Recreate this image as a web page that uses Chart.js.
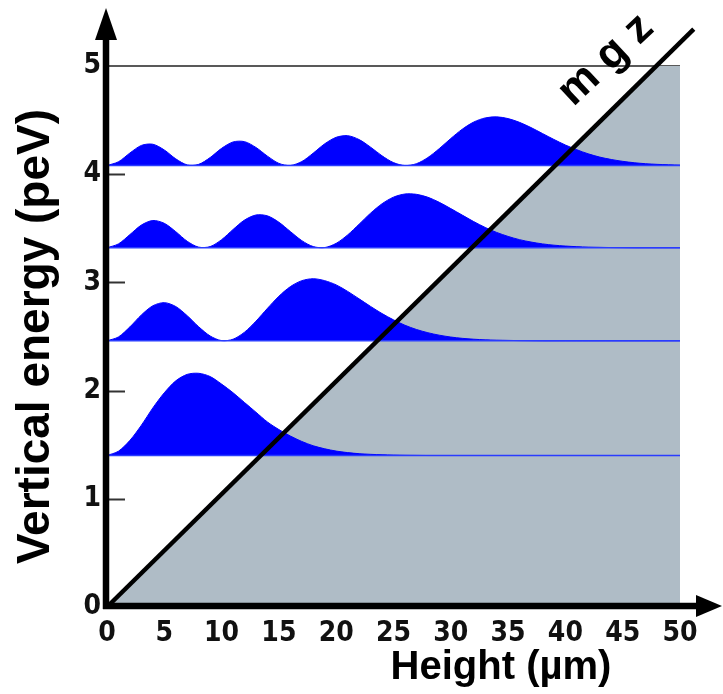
<!DOCTYPE html>
<html>
<head>
<meta charset="utf-8">
<script src="https://cdn.jsdelivr.net/npm/chart.js@4.4.1/dist/chart.umd.min.js"></script>
<style>
  html, body { margin: 0; padding: 0; background: #fff; }
  canvas { display: block; }
</style>
</head>
<body>
<canvas id="bouncer" width="723" height="694"></canvas>
<script>
// height above the mirror (µm), sampled every micron
const heightUm = [0, 1, 2, 3, 4, 5, 6, 7, 8, 9, 10, 11, 12, 13, 14, 15, 16, 17, 18, 19, 20,
  21, 22, 23, 24, 25, 26, 27, 28, 29, 30, 31, 32, 33, 34, 35, 36, 37, 38, 39, 40,
  41, 42, 43, 44, 45, 46, 47, 48, 49, 50];

// level energies (peV)
const levelEnergy = [1.40, 2.46, 3.32, 4.08];

// probability density of each state, drawn as height above its level (peV)
const density1 = [0, 0.04, 0.14, 0.28, 0.44, 0.58, 0.69, 0.75, 0.76, 0.73, 0.66,
  0.58, 0.49, 0.40, 0.31, 0.24, 0.18, 0.13, 0.09, 0.062, 0.041,
  0.027, 0.017, 0.011, 0.007, 0.004, 0.002, 0.001, 0, 0, 0,
  0, 0, 0, 0, 0, 0, 0, 0, 0, 0, 0, 0, 0, 0, 0, 0, 0, 0, 0, 0];
const density2 = [0, 0.036, 0.129, 0.239, 0.324, 0.353, 0.317, 0.232, 0.130, 0.045, 0.002,
  0.015, 0.080, 0.182, 0.300, 0.412, 0.501, 0.556, 0.574, 0.556, 0.517,
  0.457, 0.388, 0.318, 0.252, 0.194, 0.144, 0.105, 0.075, 0.052, 0.035,
  0.023, 0.015, 0.009, 0.006, 0.004, 0.002, 0.001, 0, 0, 0,
  0, 0, 0, 0, 0, 0, 0, 0, 0, 0];
const density3 = [0, 0.036, 0.122, 0.210, 0.252, 0.226, 0.149, 0.060, 0.006, 0.011, 0.075,
  0.169, 0.256, 0.303, 0.295, 0.236, 0.150, 0.066, 0.011, 0.002, 0.041,
  0.119, 0.218, 0.320, 0.407, 0.468, 0.497, 0.494, 0.467, 0.420, 0.362,
  0.302, 0.242, 0.188, 0.142, 0.105, 0.075, 0.053, 0.036, 0.024, 0.016,
  0.010, 0.006, 0.004, 0.002, 0.001, 0, 0, 0, 0, 0];
const density4 = [0, 0.035, 0.116, 0.186, 0.197, 0.144, 0.062, 0.006, 0.011, 0.074, 0.159,
  0.218, 0.221, 0.167, 0.087, 0.020, 0.001, 0.037, 0.115, 0.201, 0.261,
  0.276, 0.240, 0.170, 0.090, 0.027, 0.000, 0.017, 0.074, 0.157, 0.250,
  0.336, 0.402, 0.440, 0.450, 0.434, 0.399, 0.351, 0.296, 0.241, 0.190,
  0.146, 0.108, 0.078, 0.056, 0.039, 0.026, 0.017, 0.011, 0.007, 0.004];
const densities = [density1, density2, density3, density4];

// gravitational potential mgz and the shaded region under it
const mgzX = [0, 51.2];
const mgzY = [0, 5.34];
const wallX = [0, 47.9, 50];
const wallY = [0, 5, 5];

const xTicks = [0, 5, 10, 15, 20, 25, 30, 35, 40, 45, 50];
const yTicks = [0, 1, 2, 3, 4, 5];

const tickFont = { family: "'Liberation Sans Narrow', 'DejaVu Sans Condensed', Arial, sans-serif", size: 28, weight: 'bold' };
const titleFamily = "'Liberation Sans', Arial, sans-serif";

const pts = (xs, ys) => xs.map((x, i) => ({ x: x, y: ys[i] }));

const datasets = [];

datasets.push({
  label: 'potential',
  data: pts(wallX, wallY),
  borderWidth: 0,
  pointRadius: 0,
  backgroundColor: '#afbcc6',
  fill: 'origin',
  order: 5
});

densities.forEach((d, i) => {
  const e = levelEnergy[i];
  datasets.push({
    label: 'state ' + (i + 1),
    data: heightUm.map((z, j) => ({ x: z, y: e + d[j] })),
    borderColor: '#0000ff',
    borderWidth: 1,
    backgroundColor: '#0000ff',
    pointRadius: 0,
    tension: 0.3,
    fill: { value: e },
    order: 4
  });
  datasets.push({
    label: 'level ' + (i + 1),
    data: [{ x: 0, y: e }, { x: 50, y: e }],
    borderColor: '#2a3cff',
    borderWidth: 1.5,
    pointRadius: 0,
    fill: false,
    order: 3
  });
});

datasets.push({
  label: 'mgz',
  data: pts(mgzX, mgzY),
  borderColor: '#000',
  borderWidth: 4.5,
  pointRadius: 0,
  fill: false,
  clip: false,
  order: 1
});

// axes with arrowheads, the inner tick marks and the free text
const decorations = {
  id: 'decorations',
  beforeDatasetsDraw(chart) {
    const ctx = chart.ctx;
    const x = chart.scales.x, y = chart.scales.y;
    ctx.save();
    ctx.strokeStyle = '#222';
    ctx.lineWidth = 1.5;
    ctx.beginPath();
    ctx.moveTo(x.getPixelForValue(0), y.getPixelForValue(5));
    ctx.lineTo(x.getPixelForValue(50), y.getPixelForValue(5));
    ctx.stroke();
    ctx.lineWidth = 2;
    ctx.strokeStyle = '#333';
    [1, 2, 3, 4].forEach(v => {
      const py = Math.round(y.getPixelForValue(v)) + 0.5;
      ctx.beginPath();
      ctx.moveTo(x.getPixelForValue(0), py);
      ctx.lineTo(x.getPixelForValue(0) + 18, py);
      ctx.stroke();
    });
    ctx.restore();
  },
  afterDatasetsDraw(chart) {
    const ctx = chart.ctx;
    const x = chart.scales.x, y = chart.scales.y;
    const x0 = x.getPixelForValue(0) - 1;
    const y0 = y.getPixelForValue(0) - 1;
    ctx.save();
    ctx.fillStyle = '#000';
    ctx.strokeStyle = '#000';
    ctx.lineWidth = 6.5;
    ctx.beginPath();
    ctx.moveTo(x0, y0 + 3);
    ctx.lineTo(x0, 34);
    ctx.moveTo(x0 - 3, y0);
    ctx.lineTo(702, y0);
    ctx.stroke();
    // arrowheads
    ctx.beginPath();
    ctx.moveTo(x0, 8);
    ctx.lineTo(x0 - 11, 40);
    ctx.lineTo(x0 + 11, 40);
    ctx.closePath();
    ctx.fill();
    ctx.beginPath();
    ctx.moveTo(722, y0);
    ctx.lineTo(696, y0 - 11);
    ctx.lineTo(696, y0 + 11);
    ctx.closePath();
    ctx.fill();

    ctx.textAlign = 'center';
    ctx.textBaseline = 'middle';
    ctx.font = 'bold 40px ' + titleFamily;
    ctx.fillText('Height (µm)', 501, 668);

    ctx.translate(606, 60);
    ctx.rotate(-43 * Math.PI / 180);
    ctx.font = 'bold 44px ' + titleFamily;
    ctx.fillText('m g z', 0, 0);
    ctx.restore();
  }
};

new Chart(document.getElementById('bouncer'), {
  type: 'line',
  data: { datasets: datasets },
  options: {
    responsive: false,
    animation: false,
    devicePixelRatio: 1,
    layout: { padding: { left: 0, top: 66, right: 43, bottom: 0 } },
    plugins: {
      legend: { display: false },
      tooltip: { enabled: false }
    },
    scales: {
      x: {
        type: 'linear',
        min: 0,
        max: 50,
        afterFit(scale) { scale.height = 87; },
        afterBuildTicks(scale) { scale.ticks = xTicks.map(v => ({ value: v })); },
        grid: { display: false, drawTicks: false },
        border: { display: false },
        ticks: { font: tickFont, color: '#111', padding: 10, autoSkip: false, maxRotation: 0 }
      },
      y: {
        type: 'linear',
        min: 0,
        max: 5,
        afterFit(scale) { scale.width = 107; },
        afterBuildTicks(scale) { scale.ticks = yTicks.map(v => ({ value: v })); },
        grid: { display: false, drawTicks: false },
        border: { display: false },
        ticks: { font: tickFont, color: '#111', padding: 6 },
        title: {
          display: true,
          text: 'Vertical energy (peV)',
          color: '#000',
          font: { family: titleFamily, size: 46, weight: 'bold', lineHeight: 1.2 },
          padding: { top: 9, bottom: 0 }
        }
      }
    }
  },
  plugins: [decorations]
});
</script>
</body>
</html>
